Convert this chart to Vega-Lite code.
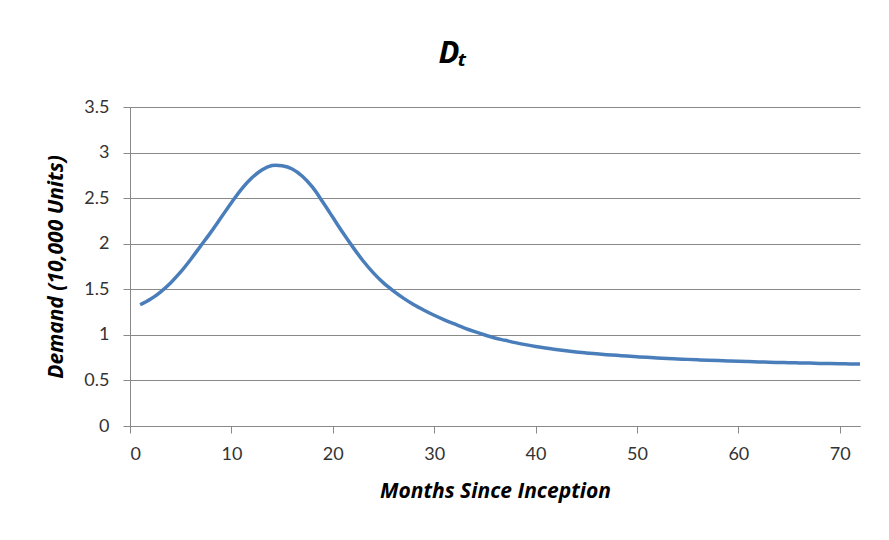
{
  "$schema": "https://vega.github.io/schema/vega-lite/v6.json",
  "width": 730,
  "height": 319,
  "autosize": {"type": "none"},
  "padding": {"left": 130, "top": 107, "right": 29, "bottom": 114},
  "background": "white",
  "title": {
    "text": "Dₜ",
    "font": "Open Sans",
    "fontSize": 31,
    "fontWeight": "bold",
    "fontStyle": "italic",
    "color": "#000000",
    "anchor": "middle",
    "dx": -42,
    "baseline": "alphabetic",
    "offset": 4
  },
  "config": {
    "view": {"stroke": null},
    "font": "Lato"
  },
  "data": {
    "values": [
      {"month": 1, "demand": 1.33}, {"month": 2, "demand": 1.39}, {"month": 3, "demand": 1.47},
      {"month": 4, "demand": 1.57}, {"month": 5, "demand": 1.69}, {"month": 6, "demand": 1.83},
      {"month": 7, "demand": 1.98}, {"month": 8, "demand": 2.13}, {"month": 9, "demand": 2.29},
      {"month": 10, "demand": 2.45}, {"month": 11, "demand": 2.60}, {"month": 12, "demand": 2.72},
      {"month": 13, "demand": 2.81}, {"month": 14, "demand": 2.858}, {"month": 15, "demand": 2.855},
      {"month": 16, "demand": 2.82}, {"month": 17, "demand": 2.74}, {"month": 18, "demand": 2.62},
      {"month": 19, "demand": 2.46}, {"month": 20, "demand": 2.29}, {"month": 21, "demand": 2.12},
      {"month": 22, "demand": 1.96}, {"month": 23, "demand": 1.81}, {"month": 24, "demand": 1.68},
      {"month": 25, "demand": 1.57}, {"month": 26, "demand": 1.48}, {"month": 27, "demand": 1.40},
      {"month": 28, "demand": 1.33}, {"month": 29, "demand": 1.27}, {"month": 30, "demand": 1.215},
      {"month": 31, "demand": 1.165}, {"month": 32, "demand": 1.12}, {"month": 33, "demand": 1.075},
      {"month": 34, "demand": 1.035}, {"month": 35, "demand": 0.998}, {"month": 36, "demand": 0.965},
      {"month": 37, "demand": 0.94}, {"month": 38, "demand": 0.915}, {"month": 39, "demand": 0.893},
      {"month": 40, "demand": 0.873}, {"month": 41, "demand": 0.856}, {"month": 42, "demand": 0.84},
      {"month": 43, "demand": 0.826}, {"month": 44, "demand": 0.813}, {"month": 45, "demand": 0.802},
      {"month": 46, "demand": 0.792}, {"month": 47, "demand": 0.783}, {"month": 48, "demand": 0.775},
      {"month": 49, "demand": 0.767}, {"month": 50, "demand": 0.76}, {"month": 51, "demand": 0.753},
      {"month": 52, "demand": 0.747}, {"month": 53, "demand": 0.741}, {"month": 54, "demand": 0.736},
      {"month": 55, "demand": 0.731}, {"month": 56, "demand": 0.726}, {"month": 57, "demand": 0.722},
      {"month": 58, "demand": 0.718}, {"month": 59, "demand": 0.714}, {"month": 60, "demand": 0.71},
      {"month": 61, "demand": 0.707}, {"month": 62, "demand": 0.703}, {"month": 63, "demand": 0.70},
      {"month": 64, "demand": 0.697}, {"month": 65, "demand": 0.695}, {"month": 66, "demand": 0.692},
      {"month": 67, "demand": 0.69}, {"month": 68, "demand": 0.687}, {"month": 69, "demand": 0.685},
      {"month": 70, "demand": 0.683}, {"month": 71, "demand": 0.681}, {"month": 72, "demand": 0.679}
    ]
  },
  "mark": {"type": "line", "color": "#4a7ebb", "strokeWidth": 3.5, "interpolate": "cardinal"},
  "encoding": {
    "x": {
      "field": "month",
      "type": "quantitative",
      "scale": {"domain": [0, 72], "nice": false},
      "axis": {
        "title": "Months Since Inception",
        "values": [0, 10, 20, 30, 40, 50, 60, 70],
        "grid": false,
        "domainColor": "#898989",
        "tickColor": "#898989",
        "tickSize": 7,
        "labelPadding": 12,
        "labelFontSize": 18,
        "labelColor": "#333333",
        "labelFont": "Lato",
        "titleFont": "Open Sans",
        "titleFontSize": 21,
        "titleFontWeight": "bold",
        "titleFontStyle": "italic",
        "titleColor": "#000000",
        "titlePadding": 17
      }
    },
    "y": {
      "field": "demand",
      "type": "quantitative",
      "scale": {"domain": [0, 3.5], "nice": false},
      "axis": {
        "title": "Demand (10,000 Units)",
        "values": [0, 0.5, 1, 1.5, 2, 2.5, 3, 3.5],
        "format": "~g",
        "grid": true,
        "gridColor": "#898989",
        "gridWidth": 1,
        "domainColor": "#898989",
        "tickColor": "#898989",
        "tickSize": 7,
        "labelPadding": 14,
        "labelFontSize": 18,
        "labelColor": "#333333",
        "labelFont": "Lato",
        "titleFont": "Open Sans",
        "titleFontSize": 21,
        "titleFontWeight": "bold",
        "titleFontStyle": "italic",
        "titleColor": "#000000",
        "titlePadding": 17
      }
    }
  }
}
